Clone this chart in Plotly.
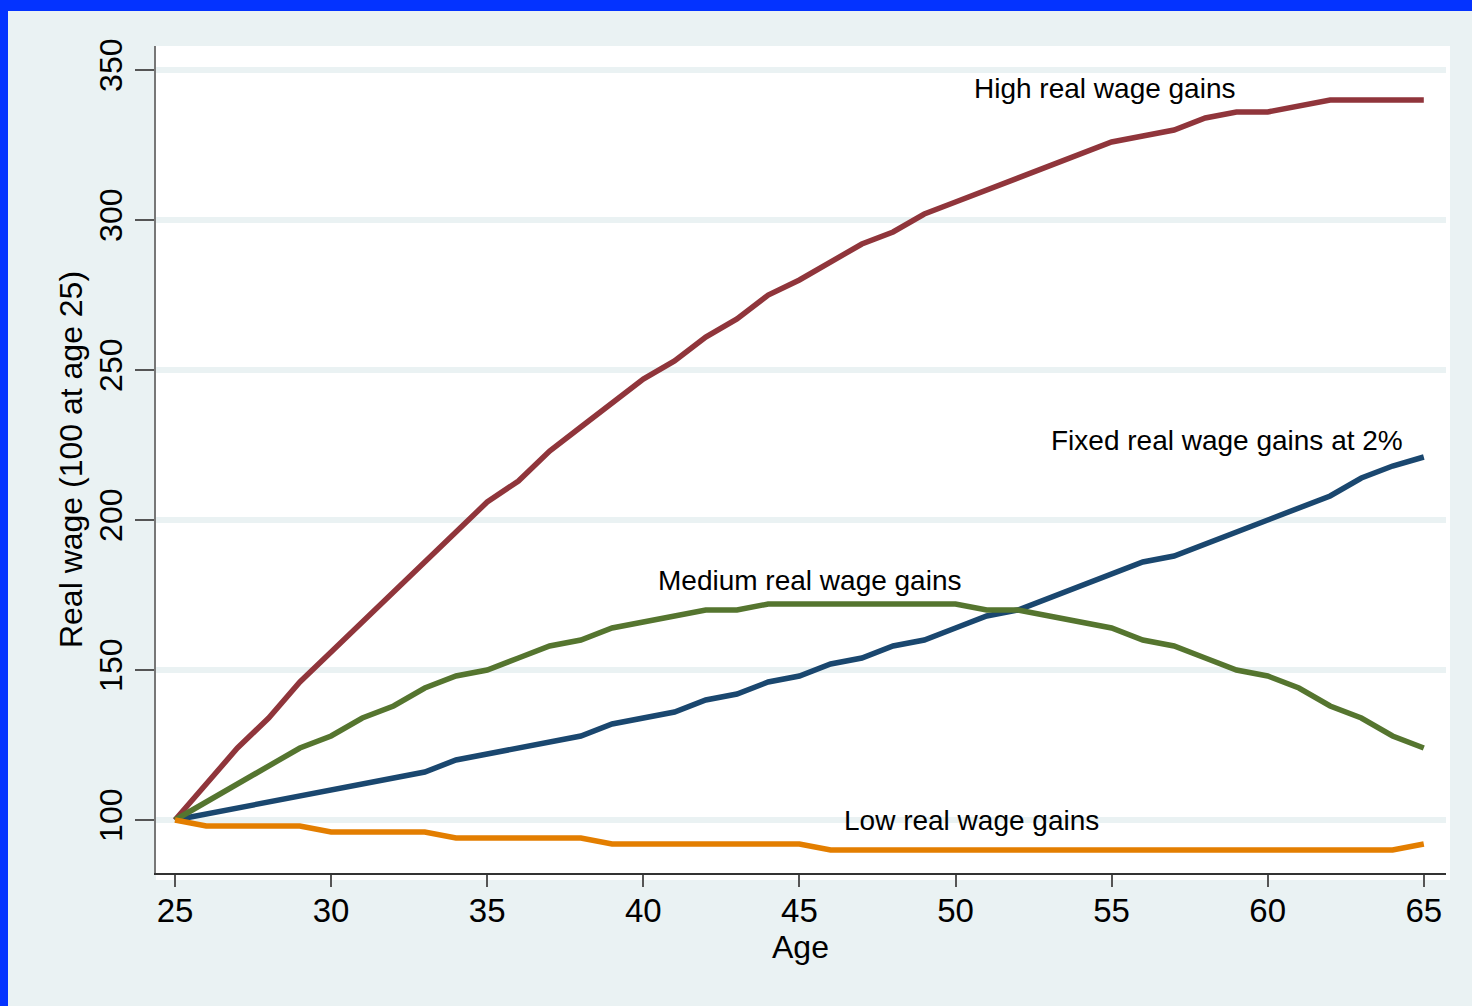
import plotly.graph_objects as go

ages = list(range(25, 66))

high = [100, 112, 124, 134, 146, 156, 166, 176, 186, 196, 206, 213, 223, 231, 239,
        247, 253, 261, 267, 275, 280, 286, 292, 296, 302, 306, 310, 314, 318, 322,
        326, 328, 330, 334, 336, 336, 338, 340, 340, 340, 340]

fixed = [100, 102, 104, 106, 108, 110, 112, 114, 116, 120, 122, 124, 126, 128, 132,
         134, 136, 140, 142, 146, 148, 152, 154, 158, 160, 164, 168, 170, 174, 178,
         182, 186, 188, 192, 196, 200, 204, 208, 214, 218, 221]

medium = [100, 106, 112, 118, 124, 128, 134, 138, 144, 148, 150, 154, 158, 160, 164,
          166, 168, 170, 170, 172, 172, 172, 172, 172, 172, 172, 170, 170, 168, 166,
          164, 160, 158, 154, 150, 148, 144, 138, 134, 128, 124]

low = [100, 98, 98, 98, 98, 96, 96, 96, 96, 94, 94, 94, 94, 94, 92,
       92, 92, 92, 92, 92, 92, 90, 90, 90, 90, 90, 90, 90, 90, 90,
       90, 90, 90, 90, 90, 90, 90, 90, 90, 90, 92]

series = [
    ("High real wage gains", high, "#90353B"),
    ("Fixed real wage gains at 2%", fixed, "#1A476F"),
    ("Medium real wage gains", medium, "#55752F"),
    ("Low real wage gains", low, "#E37E00"),
]

labels = [
    ("High real wage gains", 54.8, 344),
    ("Fixed real wage gains at 2%", 58.7, 226.5),
    ("Medium real wage gains", 45.35, 180),
    ("Low real wage gains", 50.5, 100),
]

yticks = [100, 150, 200, 250, 300, 350]
xticks = [25, 30, 35, 40, 45, 50, 55, 60, 65]

FONT = "Liberation Sans, Arial, sans-serif"
BG = "#EAF2F3"

fig = go.Figure()
for name, vals, col in series:
    fig.add_trace(go.Scatter(x=ages, y=vals, mode="lines", name=name,
                             line=dict(color=col, width=5.5),
                             showlegend=False))

for txt, x, y in labels:
    fig.add_annotation(x=x, y=y, text=txt, showarrow=False, xanchor="center",
                       yanchor="middle", font=dict(family=FONT, size=28, color="black"))

W, H = 1472, 1006
L, R, T, B = 156, 1446, 46, 873
pw, ph = R - L, B - T
XPX = 31.22

def px_x(p):
    return (p - L) / pw

def px_y(p):
    return (B - p) / ph

# x-axis title placed as annotation for precise position
fig.add_annotation(x=px_x(800), y=px_y(947), xref="paper", yref="paper", text="Age",
                   showarrow=False, xanchor="center", yanchor="middle",
                   font=dict(family=FONT, size=32, color="black"))

shapes = [
    dict(type="rect", xref="paper", yref="paper", x0=0, x1=px_x(1450), y0=px_y(880), y1=1,
         fillcolor="white", line=dict(width=0), layer="below"),
    dict(type="rect", xref="paper", yref="paper", x0=px_x(0), x1=px_x(W), y0=px_y(11), y1=px_y(0),
         fillcolor="#0433FF", line=dict(width=0), layer="above"),
    dict(type="rect", xref="paper", yref="paper", x0=px_x(0), x1=px_x(8), y0=px_y(H), y1=px_y(0),
         fillcolor="#0433FF", line=dict(width=0), layer="above"),
]

fig.update_layout(
    width=W, height=H,
    margin=dict(l=L, r=W - R, t=T, b=H - B, pad=0),
    paper_bgcolor=BG, plot_bgcolor="white",
    font=dict(family=FONT, color="black"),
    shapes=shapes,
    xaxis=dict(
        range=[25 - (175 - L) / XPX, 25 + (R - 175) / XPX],
        tickvals=xticks, ticktext=[str(v) for v in xticks],
        ticks="outside", ticklen=12, tickcolor="#555", tickwidth=1.5,
        ticklabelstandoff=-4,
        showline=True, linecolor="#333", linewidth=1.5,
        showgrid=False, zeroline=False,
        tickfont=dict(size=33, family=FONT),
    ),
    yaxis=dict(
        range=[100 - (B - 820) / 3.0, 100 + (820 - T) / 3.0],
        tickvals=yticks, ticktext=[str(v) for v in yticks],
        tickangle=-90,
        ticks="outside", ticklen=19, tickcolor="#555", tickwidth=1.5,
        showline=True, linecolor="#777", linewidth=2,
        showgrid=True, gridcolor=BG, gridwidth=6,
        zeroline=False,
        tickfont=dict(size=32, family=FONT),
        title=dict(text="Real wage (100 at age 25)", font=dict(size=32, family=FONT), standoff=1),
    ),
)

fig.write_html(
    "out.html",
    config={"displayModeBar": False},
    post_script="document.body.style.margin='0';document.body.style.overflow='hidden';",
)
